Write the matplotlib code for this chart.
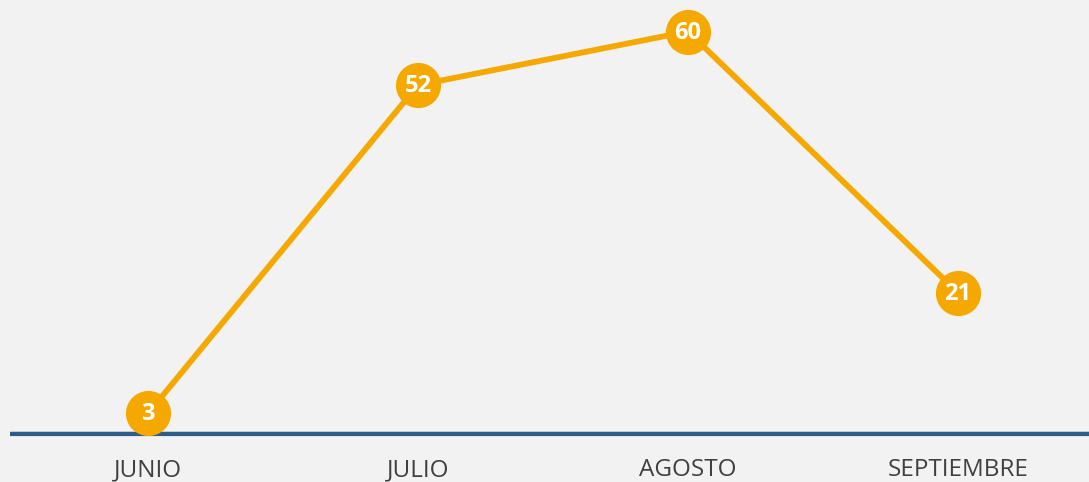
import matplotlib
matplotlib.use("Agg")
import matplotlib.pyplot as plt

months = ["JUNIO", "JULIO", "AGOSTO", "SEPTIEMBRE"]
values = [3, 52, 60, 21]

W, H, DPI = 1089, 482, 100
bg = "#F2F2F2"
orange = "#F5A800"
blue = "#2B5C8A"

fig = plt.figure(figsize=(W / DPI, H / DPI), dpi=DPI, facecolor=bg)
ax = fig.add_axes([0, 0, 1, 1], facecolor=bg)

px_per_unit = 6.70
zero_pix = 433.5
x0_pix, step = 148, 270
ax.set_xlim(-x0_pix / step, (W - x0_pix) / step)
ax.set_ylim((zero_pix - H) / px_per_unit, zero_pix / px_per_unit)
ax.axis("off")

x = list(range(len(months)))

# baseline
xl = (10 - x0_pix) / step
xr = (W - x0_pix) / step
ax.plot([xl, xr], [0.25, 0.25], color="#555555", lw=1.0, solid_capstyle="butt", zorder=1)
ax.plot([xl, xr], [-0.1, -0.1], color=blue, lw=3.0, solid_capstyle="butt", zorder=1)

ax.plot(x, values, color=orange, lw=4.2, zorder=2, solid_capstyle="butt")
ax.plot(x, values, "o", color=orange, markersize=32.5, markeredgewidth=0, zorder=3)
for xi, v in zip(x, values):
    ax.text(xi, v - 0.15, str(v), color="white", fontsize=17, fontweight="bold",
            family="Open Sans", ha="center", va="center", zorder=4)

label_y = (zero_pix - 470) / px_per_unit
for xi, m in zip(x, months):
    ax.text(xi, label_y, m, color="#404040", fontsize=17.5, family="Open Sans",
            ha="center", va="center")

fig.savefig("out.png", dpi=DPI, facecolor=bg)
